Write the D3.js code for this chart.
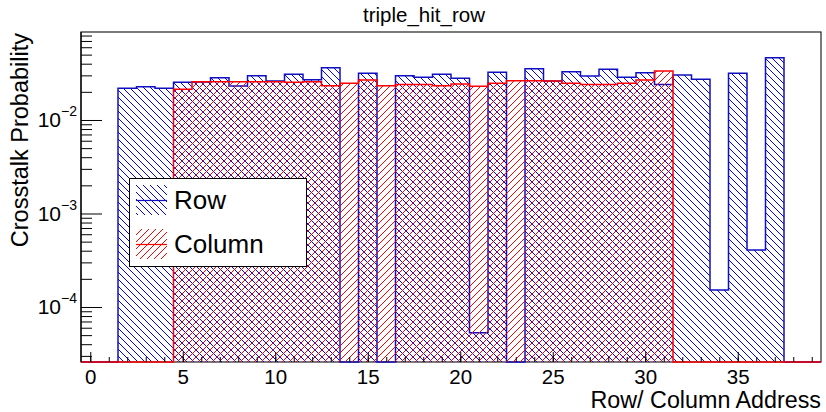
<!DOCTYPE html>
<html lang="en">
<head>
    <meta charset="UTF-8">
    <title>triple_hit_row</title>
    <script src="https://d3js.org/d3.v7.min.js"></script>
    <style>
        body { margin: 0; background: #fff; }
        svg { display: block; font-family: "Liberation Sans", Arial, Helvetica, sans-serif; }
    </style>
</head>
<body>
    <svg id="chart" width="826" height="412"></svg>

    <script>
        // bin centres 0..39 (unit width bins)
        const bins = d3.range(0, 40);

        // crosstalk probability per address
        const rowProb = [0, 0, 0.0218, 0.0227, 0.0218, 0.0253, 0.0255, 0.0283, 0.0231, 0.0298,
                         0.0261, 0.0308, 0.0270, 0.0362, 0, 0.0316, 0, 0.0298, 0.0286, 0.0308,
                         0.0279, 5.3e-5, 0.0324, 0, 0.0354, 0.0261, 0.0329, 0.0296, 0.0348, 0.0286,
                         0.0321, 0.0240, 0.0303, 0.0272, 1.52e-4, 0.0316, 4.07e-4, 0.0463, 0, 0];
        const colProb = [0, 0, 0, 0, 0, 0.0213, 0.0257, 0.0257, 0.0257, 0.0257,
                         0.0257, 0.0253, 0.0257, 0.0233, 0.0247, 0.0268, 0.0233, 0.0240, 0.0240, 0.0233,
                         0.0242, 0.0229, 0.0247, 0.0263, 0.0263, 0.0261, 0.0247, 0.0240, 0.0240, 0.0247,
                         0.0268, 0.0334, 0, 0, 0, 0, 0, 0, 0, 0];

        const xTicks = [0, 5, 10, 15, 20, 25, 30, 35];
        const yTicks = [1e-4, 1e-3, 1e-2];
        const yTickLabels = ["10", "10", "10"];
        const yTickExp = ["\u22124", "\u22123", "\u22122"];

        const series = [
            { name: "Row", values: rowProb, color: "#0000ff", line: "#1010c0", pat: "hatchRow" },
            { name: "Column", values: colProb, color: "#ff0000", line: "#ff0000", pat: "hatchCol" }
        ];

        const L = 81, R = 821, T = 32, B = 362;
        const svg = d3.select("#chart");

        const x = d3.scaleLinear().domain([-0.5, 39.5]).range([L, R]);
        const y = d3.scaleLog().domain([2.58e-5, 0.0873]).range([B, T]);

        // hatch patterns
        const defs = svg.append("defs");
        defs.append("pattern").attr("id", "hatchRow")
            .attr("patternUnits", "userSpaceOnUse").attr("width", 7).attr("height", 7)
            .append("path")
            .attr("d", "M0,0L7,7M-1,6L1,8M6,-1L8,1")
            .attr("stroke", "#0000ff").attr("stroke-width", 1)
            .attr("shape-rendering", "crispEdges");
        defs.append("pattern").attr("id", "hatchCol")
            .attr("patternUnits", "userSpaceOnUse").attr("width", 7).attr("height", 7)
            .append("path")
            .attr("d", "M0,7L7,0M-1,1L1,-1M6,8L8,6")
            .attr("stroke", "#ff0000").attr("stroke-width", 1)
            .attr("shape-rendering", "crispEdges");

        // frame
        svg.append("rect")
            .attr("x", L).attr("y", T).attr("width", R - L).attr("height", B - T)
            .attr("fill", "none").attr("stroke", "#222").attr("stroke-width", 1.2);

        function level(v) { return v > 0 ? y(v) : B; }

        function stepPoints(values) {
            const pts = [];
            bins.forEach((b, i) => {
                const yy = level(values[i]);
                pts.push([x(b - 0.5), yy]);
                pts.push([x(b + 0.5), yy]);
            });
            return pts;
        }

        series.forEach(s => {
            const pts = stepPoints(s.values);
            const line = d3.line();
            const closed = pts.concat([[x(39.5), B], [x(-0.5), B]]);
            svg.append("path")
                .attr("d", line(closed) + "Z")
                .attr("fill", `url(#${s.pat})`)
                .attr("stroke", "none");
            svg.append("path")
                .attr("d", line(pts))
                .attr("fill", "none")
                .attr("stroke", s.line)
                .attr("stroke-width", 1.5);
        });

        // x axis ticks
        const gx = svg.append("g").attr("transform", `translate(0,${B})`);
        gx.call(d3.axisBottom(x).tickValues(bins).tickSize(-5).tickFormat(""))
            .call(g => g.select(".domain").remove());
        const gx2 = svg.append("g").attr("transform", `translate(0,${B})`);
        gx2.call(d3.axisBottom(x).tickValues(xTicks).tickSize(-10))
            .call(g => g.select(".domain").remove());
        gx2.selectAll("text")
            .attr("y", 22).attr("dy", 0)
            .attr("font-size", 20.5).attr("fill", "#000")
            .attr("font-family", "Liberation Sans, Arial, sans-serif");
        svg.selectAll(".tick line").attr("stroke", "#000");

        // y axis ticks
        const yMinor = [];
        [-5, -4, -3, -2].forEach(e => {
            [2, 3, 4, 5, 6, 7, 8, 9].forEach(m => {
                const v = m * Math.pow(10, e);
                if (v > y.domain()[0] && v < y.domain()[1]) yMinor.push(v);
            });
        });
        const gy = svg.append("g").attr("transform", `translate(${L},0)`);
        gy.call(d3.axisLeft(y).tickValues(yMinor).tickSize(-11).tickFormat(""))
            .call(g => g.select(".domain").remove());
        const gy2 = svg.append("g").attr("transform", `translate(${L},0)`);
        gy2.call(d3.axisLeft(y).tickValues(yTicks).tickSize(-21).tickFormat(""))
            .call(g => g.select(".domain").remove());
        gy2.selectAll(".tick line").attr("stroke", "#000");
        gy.selectAll(".tick line").attr("stroke", "#000");

        gy2.selectAll(".tick").each(function (d, i) {
            const t = d3.select(this).append("text")
                .attr("x", -4).attr("y", 7)
                .attr("text-anchor", "end")
                .attr("fill", "#000")
                .attr("font-size", 21)
                .attr("font-family", "Liberation Sans, Arial, sans-serif");
            t.append("tspan").text(yTickLabels[i]);
            t.append("tspan").attr("dy", -11).attr("font-size", 14).text(yTickExp[i]);
        });

        // axis lines on top of fills
        svg.append("line").attr("x1", L).attr("x2", L).attr("y1", T).attr("y2", B)
            .attr("stroke", "#000").attr("stroke-width", 1.2);

        // titles
        svg.append("text")
            .attr("x", 424).attr("y", 22)
            .attr("text-anchor", "middle")
            .attr("font-size", 20.5)
            .text("triple_hit_row");

        svg.append("text")
            .attr("x", R).attr("y", 408)
            .attr("text-anchor", "end")
            .attr("font-size", 23.3)
            .text("Row/ Column Address");

        svg.append("text")
            .attr("transform", "translate(27.5,33) rotate(-90)")
            .attr("text-anchor", "end")
            .attr("font-size", 23.5)
            .text("Crosstalk Probability");

        // legend
        const lg = svg.append("g");
        lg.append("rect")
            .attr("x", 129.5).attr("y", 178.5).attr("width", 177).attr("height", 88)
            .attr("fill", "#fff").attr("stroke", "#000").attr("stroke-width", 1);
        series.forEach((s, i) => {
            const top = 185 + i * 44;
            lg.append("rect")
                .attr("x", 136).attr("y", top).attr("width", 31).attr("height", 30)
                .attr("fill", `url(#${s.pat})`);
            lg.append("line")
                .attr("x1", 136).attr("x2", 167)
                .attr("y1", top + 15.5).attr("y2", top + 15.5)
                .attr("stroke", s.line).attr("stroke-width", 1.2);
            lg.append("text")
                .attr("x", 174).attr("y", top + 24)
                .attr("font-size", 26)
                .text(s.name);
        });
    </script>
</body>
</html>
